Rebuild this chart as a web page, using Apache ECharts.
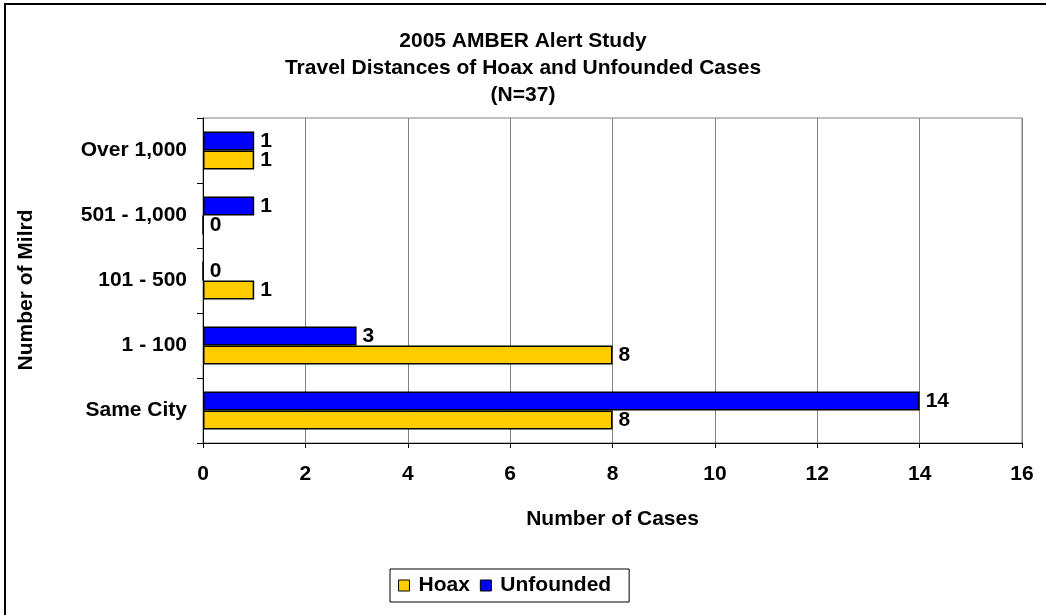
<!DOCTYPE html>
<html lang="en">
  <head>
    <meta charset="utf-8">
    <title>2005 AMBER Alert Study</title>
    <script src="https://cdn.jsdelivr.net/npm/echarts@6/dist/echarts.min.js"></script>
    <style>
      body { margin: 0; background: #fff; }
      #chart { width: 1046px; height: 615px; }
    </style>
  </head>
  <body>
    <div id="chart"></div>
    <script>
        // bottom to top, as on the picture
        var categories = ['Same City', '1 - 100', '101 - 500', '501 - 1,000', 'Over 1,000'];
        var hoax = [8, 8, 1, 0, 1];
        var unfounded = [14, 3, 0, 1, 1];
        var xTicks = [0, 2, 4, 6, 8, 10, 12, 14, 16];

        var font = '"Liberation Sans", Arial, sans-serif';
        var chart = echarts.init(document.getElementById('chart'), null, {renderer: 'canvas'});

        var label = {
            show: true,
            position: 'right',
            distance: 6,
            color: '#000',
            fontFamily: font,
            fontWeight: 'bold',
            fontSize: 21
        };

        chart.setOption({
            animation: false,
            backgroundColor: '#fff',
            title: {
                text: '2005 AMBER Alert Study\nTravel Distances of Hoax and Unfounded Cases\n(N=37)',
                left: 'center',
                top: 23,
                textStyle: {
                    fontFamily: font,
                    fontWeight: 'bold',
                    fontSize: 21,
                    lineHeight: 27,
                    color: '#000'
                }
            },
            graphic: [{
                type: 'rect',
                shape: {x: 5, y: 4, width: 1100, height: 700},
                style: {fill: 'none', stroke: '#000', lineWidth: 2},
                silent: true
            }, {
                // y axis title, set by hand so it sits where the picture has it
                type: 'text',
                x: 26,
                y: 290,
                rotation: Math.PI / 2,
                style: {
                    text: 'Number of Milrd',
                    fill: '#000',
                    font: 'bold 21px ' + font,
                    align: 'center',
                    verticalAlign: 'middle'
                },
                silent: true
            }],
            legend: {
                data: ['Hoax', 'Unfounded'],
                left: 390,
                top: 569,
                orient: 'horizontal',
                padding: [6, 18, 6, 8],
                itemGap: 10,
                itemWidth: 11,
                itemHeight: 11,
                icon: 'rect',
                borderColor: '#000',
                borderWidth: 1,
                itemStyle: {borderColor: '#000', borderWidth: 1},
                textStyle: {
                    fontFamily: font,
                    fontWeight: 'bold',
                    fontSize: 21,
                    color: '#000',
                    padding: [0, 0, 0, 4]
                }
            },
            grid: {
                left: 203,
                top: 118,
                right: 24,
                bottom: 172,
                show: true,
                borderColor: '#808080',
                borderWidth: 1,
                containLabel: false
            },
            xAxis: {
                type: 'value',
                min: xTicks[0],
                max: xTicks[xTicks.length - 1],
                interval: 2,
                name: 'Number of Cases',
                nameLocation: 'middle',
                nameGap: 66,
                nameTextStyle: {
                    fontFamily: font,
                    fontWeight: 'bold',
                    fontSize: 21,
                    color: '#000'
                },
                axisLine: {show: true, lineStyle: {color: '#000', width: 1}},
                axisTick: {show: true, length: 5, lineStyle: {color: '#000'}},
                axisLabel: {
                    margin: 21,
                    fontFamily: font,
                    fontWeight: 'bold',
                    fontSize: 21,
                    color: '#000'
                },
                splitLine: {show: true, lineStyle: {color: '#808080', width: 1}}
            },
            yAxis: {
                type: 'category',
                data: categories,
                axisLine: {show: true, lineStyle: {color: '#000', width: 1}},
                axisTick: {show: true, length: 6, lineStyle: {color: '#000'}},
                axisLabel: {
                    margin: 16,
                    fontFamily: font,
                    fontWeight: 'bold',
                    fontSize: 21,
                    color: '#000'
                },
                splitLine: {show: false}
            },
            // Unfounded first so it sits on top of each pair
            series: [
                {
                    name: 'Unfounded',
                    type: 'bar',
                    data: unfounded,
                    barWidth: 19,
                    barGap: '0%',
                    itemStyle: {color: '#0000FF', borderColor: '#000', borderWidth: 1.5},
                    label: label
                },
                {
                    name: 'Hoax',
                    type: 'bar',
                    data: hoax,
                    barWidth: 19,
                    barGap: '0%',
                    itemStyle: {color: '#FFCC00', borderColor: '#000', borderWidth: 1.5},
                    label: label
                }
            ]
        });
    </script>
  </body>
</html>
